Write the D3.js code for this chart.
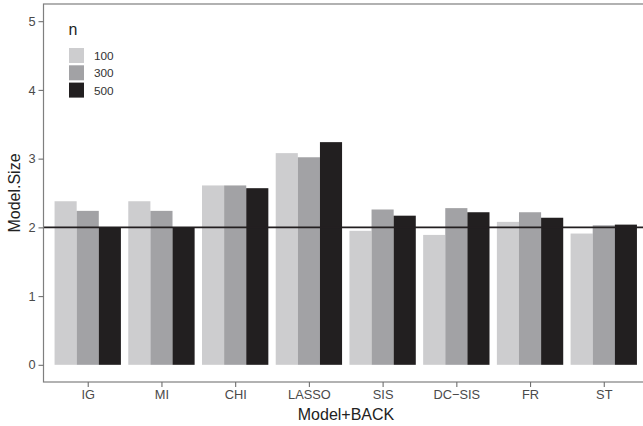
<!DOCTYPE html>
<html>
<head>
<meta charset="utf-8">
<script src="https://cdn.jsdelivr.net/npm/d3@7"></script>
<style>
  html, body { margin: 0; padding: 0; background: #fff; }
  svg { display: block; font-family: "Liberation Sans", Arial, Helvetica, sans-serif; }
</style>
</head>
<body>
<svg id="chart" width="643" height="426"></svg>
<script>
// Mean selected model size by method and sample size n
const methods = ["IG", "MI", "CHI", "LASSO", "SIS", "DC\u2212SIS", "FR", "ST"];
const sizes = ["100", "300", "500"];
const size100 = [2.38, 2.38, 2.61, 3.08, 1.95, 1.89, 2.08, 1.91];
const size300 = [2.24, 2.24, 2.61, 3.02, 2.26, 2.28, 2.22, 2.03];
const size500 = [2.00, 2.00, 2.57, 3.24, 2.17, 2.22, 2.14, 2.04];
const yTicks = [0, 1, 2, 3, 4, 5];
const refLine = 2;

const seriesValues = [size100, size300, size500];
const fills = ["#cdcdcf", "#a2a2a5", "#221f20"];

const svg = d3.select("#chart");
const panel = { left: 43.5, top: 4, right: 648, bottom: 382 };

// discrete x with 0.6 unit padding on each side
const nCat = methods.length;
const step = (panel.right - panel.left) / (nCat - 1 + 1.2);
const x = d3.scalePoint()
  .domain(methods)
  .range([panel.left + 0.6 * step, panel.right - 0.6 * step]);

const groupWidth = 0.9 * step;
const xInner = d3.scaleBand().domain(sizes).range([-groupWidth / 2, groupWidth / 2]).padding(0);

const y = d3.scaleLinear().domain([-0.25, 5.25]).range([panel.bottom, panel.top]);

const rows = [];
methods.forEach((m, i) => {
  sizes.forEach((s, j) => rows.push({ method: m, n: s, value: seriesValues[j][i], k: j }));
});

// bars
svg.append("g").selectAll("rect")
  .data(rows)
  .join("rect")
  .attr("x", d => x(d.method) + xInner(d.n))
  .attr("width", xInner.bandwidth())
  .attr("y", d => y(d.value))
  .attr("height", d => y(0) - y(d.value))
  .attr("fill", d => fills[d.k]);

// reference line
svg.append("line")
  .attr("x1", panel.left).attr("x2", panel.right)
  .attr("y1", y(refLine)).attr("y2", y(refLine))
  .attr("stroke", "#231f20").attr("stroke-width", 1.6);

// panel border
svg.append("rect")
  .attr("x", panel.left).attr("y", panel.top)
  .attr("width", panel.right - panel.left).attr("height", panel.bottom - panel.top)
  .attr("fill", "none").attr("stroke", "#7f7f7f").attr("stroke-width", 1.2);

// y axis
const yAxis = svg.append("g")
  .attr("transform", `translate(${panel.left},0)`)
  .call(d3.axisLeft(y).tickValues(yTicks).tickSize(5).tickPadding(3).tickFormat(d3.format("d")));
yAxis.select(".domain").remove();
yAxis.selectAll(".tick line").attr("stroke", "#6f6f6f").attr("stroke-width", 1.1);
yAxis.selectAll(".tick text").attr("fill", "#4a4a4a").style("font-size", "12.8px");

// x axis
const xAxis = svg.append("g")
  .attr("transform", `translate(0,${panel.bottom})`)
  .call(d3.axisBottom(x).tickSize(5).tickPadding(3));
xAxis.select(".domain").remove();
xAxis.selectAll(".tick line").attr("stroke", "#6f6f6f").attr("stroke-width", 1.1);
xAxis.selectAll(".tick text").attr("fill", "#4a4a4a").style("font-size", "12.8px");

// axis titles
svg.append("text")
  .attr("x", 346).attr("y", 419.5)
  .attr("text-anchor", "middle").attr("fill", "#222")
  .style("font-size", "16px").text("Model+BACK");
svg.append("text")
  .attr("transform", `translate(20,${(panel.top + panel.bottom) / 2}) rotate(-90)`)
  .attr("text-anchor", "middle").attr("fill", "#222")
  .style("font-size", "16px").text("Model.Size");

// legend
const legend = svg.append("g").attr("transform", "translate(69,0)");
legend.append("text").attr("x", -0.5).attr("y", 35)
  .attr("fill", "#222").style("font-size", "16px").text("n");
sizes.forEach((s, j) => {
  const ky = 48 + j * 17.3;
  legend.append("rect").attr("x", 0).attr("y", ky).attr("width", 15).attr("height", 15)
    .attr("fill", fills[j]);
  legend.append("text").attr("x", 25).attr("y", ky + 12)
    .attr("fill", "#333").style("font-size", "11.8px").text(s);
});
</script>
</body>
</html>
